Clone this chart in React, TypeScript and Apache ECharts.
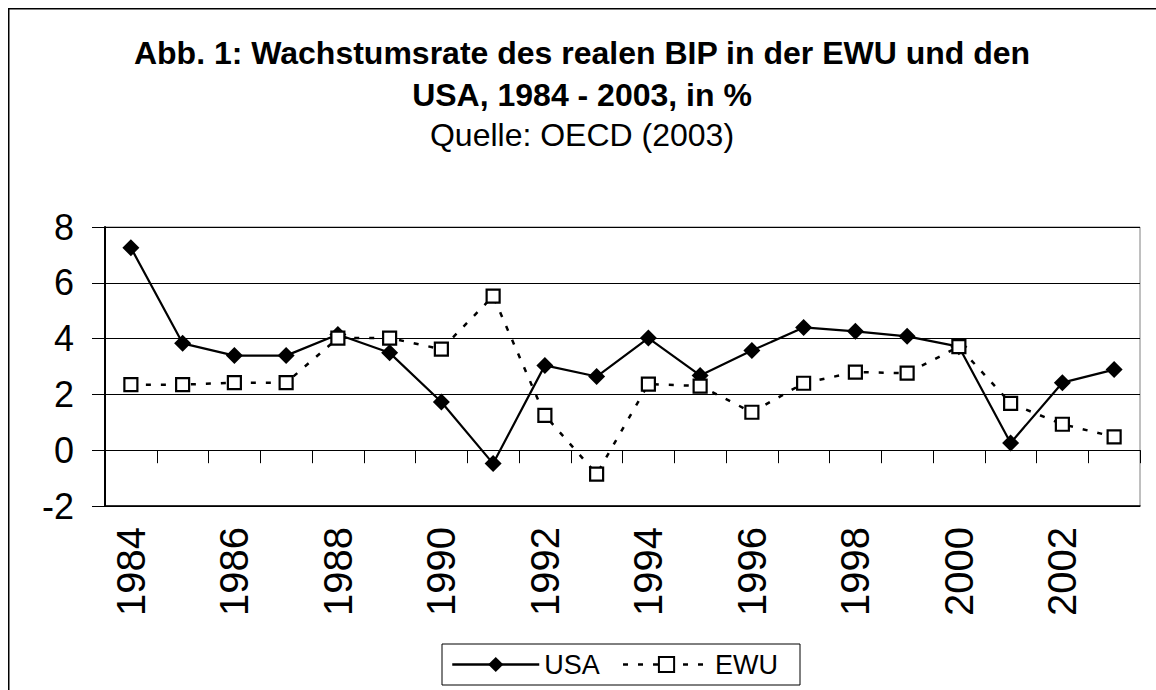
import React, { useEffect, useRef } from "react";
import * as echarts from "echarts";

const years = ["1984","1985","1986","1987","1988","1989","1990","1991","1992","1993","1994","1995","1996","1997","1998","1999","2000","2001","2002","2003"];
const usa = [7.26, 3.83, 3.39, 3.39, 4.15, 3.49, 1.73, -0.48, 3.04, 2.64, 4.02, 2.68, 3.57, 4.40, 4.26, 4.08, 3.71, 0.26, 2.42, 2.89];
const ewu = [2.35, 2.35, 2.42, 2.42, 4.02, 4.02, 3.62, 5.52, 1.25, -0.86, 2.37, 2.30, 1.36, 2.40, 2.80, 2.76, 3.71, 1.68, 0.93, 0.48];
const titleText = "Abb. 1: Wachstumsrate des realen BIP in der EWU und den\nUSA, 1984 - 2003, in %";
const subText = "Quelle: OECD (2003)";

const FONT = "Liberation Sans, Arial, Helvetica, sans-serif";

export default function App() {
  const ref = useRef<HTMLDivElement>(null);
  useEffect(() => {
    if (!ref.current) return;
    const chart = echarts.init(ref.current, null, { renderer: "svg" });
    chart.setOption({
      animation: false,
      backgroundColor: "#fff",
      title: {
        text: titleText,
        subtext: subText,
        left: "center",
        top: 19,
        itemGap: 0,
        textStyle: { fontSize: 32, fontWeight: "bold", lineHeight: 42, color: "#000", fontFamily: FONT },
        subtextStyle: { fontSize: 32, lineHeight: 38, color: "#000", fontFamily: FONT },
      },
      graphic: [
        {
          type: "rect",
          shape: { x: 0.5, y: 0.5, width: 1200, height: 800 },
          style: { fill: "none", stroke: "#000", lineWidth: 2 },
          silent: true,
        },
      ],
      legend: {
        left: 434,
        top: 636,
        orient: "horizontal",
        padding: [7, 22, 7, 9],
        itemGap: 22,
        itemWidth: 87,
        itemHeight: 19,
        borderColor: "#000",
        borderWidth: 1,
        lineStyle: { width: 2.5 },
        textStyle: { fontSize: 27, color: "#000", fontFamily: FONT },
        data: ["USA", "EWU"],
      },
      grid: {
        left: 97,
        top: 219,
        right: 16,
        bottom: 184,
        show: true,
        borderColor: "#808080",
        borderWidth: 1,
        backgroundColor: "transparent",
      },
      xAxis: [
        {
          type: "category",
          data: years,
          boundaryGap: true,
          axisLine: { show: true, onZero: true, lineStyle: { color: "#000", width: 1 } },
          axisTick: { show: true, inside: false, length: 13, lineStyle: { color: "#000", width: 1 } },
          axisLabel: { show: false },
          splitLine: { show: false },
        },
        {
          type: "category",
          data: years,
          boundaryGap: true,
          position: "bottom",
          axisLine: { show: true, onZero: false, lineStyle: { color: "#000", width: 1.5 } },
          axisTick: { show: false },
          axisLabel: {
            show: true,
            rotate: 90,
            interval: 1,
            margin: 21,
            fontSize: 40,
            color: "#000",
            fontFamily: FONT,
          },
          splitLine: { show: false },
        },
      ],
      yAxis: {
        type: "value",
        min: -2,
        max: 8,
        interval: 2,
        axisLine: { show: true, lineStyle: { color: "#000", width: 2 } },
        axisTick: { show: true, inside: false, length: 13, lineStyle: { color: "#000", width: 1 } },
        axisLabel: { fontSize: 36, color: "#000", margin: 31, fontFamily: FONT },
        splitLine: { show: true, lineStyle: { color: "#000", width: 1 } },
      },
      series: [
        {
          name: "USA",
          type: "line",
          xAxisIndex: 0,
          data: usa,
          symbol: "diamond",
          symbolSize: 17,
          lineStyle: { color: "#000", width: 2.2 },
          itemStyle: { color: "#000" },
        },
        {
          name: "EWU",
          type: "line",
          xAxisIndex: 0,
          data: ewu,
          symbol: "rect",
          symbolSize: 13,
          lineStyle: { color: "#000", width: 2.5, type: [5, 10] },
          itemStyle: { color: "#fff", borderColor: "#000", borderWidth: 2.2 },
        },
      ],
    });
    return () => chart.dispose();
  }, []);
  return (
    <div
      ref={ref}
      style={{ position: "fixed", left: 8, top: 8, width: 1148, height: 682 }}
    />
  );
}
